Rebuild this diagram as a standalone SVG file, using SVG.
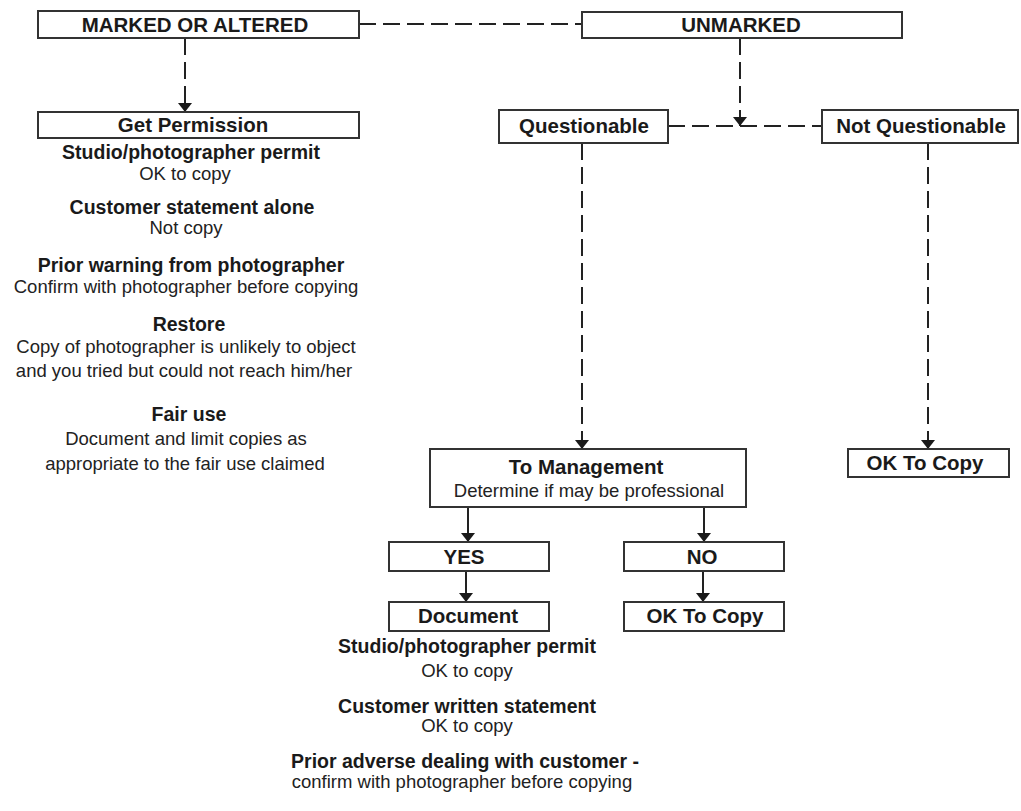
<svg xmlns="http://www.w3.org/2000/svg" width="1021" height="811" viewBox="0 0 1021 811">
<defs>
<marker id="ah" markerUnits="userSpaceOnUse" markerWidth="10" markerHeight="14" refX="9" refY="7" orient="auto" viewBox="0 0 10 14">
<path d="M0,0 L9,7 L0,14 z" fill="#1a1a1a"/>
</marker>
<style>
.box{fill:#fff;stroke:#333;stroke-width:2}
.lbl{font-family:"Liberation Sans",Arial,sans-serif;font-weight:bold;font-size:20.5px;fill:#1a1a1a;text-anchor:middle}
.hd{font-family:"Liberation Sans",Arial,sans-serif;font-weight:bold;font-size:19.5px;fill:#1a1a1a;text-anchor:middle}
.tx{font-family:"Liberation Sans",Arial,sans-serif;font-size:18.5px;fill:#222;text-anchor:middle}
.dash{fill:none;stroke:#222;stroke-width:2;stroke-dasharray:17 7}
.solid{fill:none;stroke:#222;stroke-width:2}
</style>
</defs>
<rect width="1021" height="811" fill="#fff"/>

<g id="connectors">
<line class="dash" x1="359" y1="24" x2="582" y2="24"/>
<line class="dash" x1="668" y1="126" x2="822" y2="126"/>
<line class="dash" x1="185" y1="38" x2="185" y2="112" marker-end="url(#ah)"/>
<line class="dash" x1="740" y1="38" x2="740" y2="126" marker-end="url(#ah)"/>
<line class="dash" x1="582" y1="143" x2="582" y2="449" marker-end="url(#ah)"/>
<line class="dash" x1="928" y1="143" x2="928" y2="449" marker-end="url(#ah)"/>
<line class="solid" x1="468" y1="507" x2="468" y2="542" marker-end="url(#ah)"/>
<line class="solid" x1="704" y1="507" x2="704" y2="542" marker-end="url(#ah)"/>
<line class="solid" x1="466" y1="571" x2="466" y2="602" marker-end="url(#ah)"/>
<line class="solid" x1="703" y1="571" x2="703" y2="602" marker-end="url(#ah)"/>
</g>

<g id="marked">
<rect class="box" x="38" y="11" width="321" height="27"/>
<text class="lbl" x="195" y="32">MARKED OR ALTERED</text>
</g>
<g id="unmarked">
<rect class="box" x="582" y="12" width="320" height="26"/>
<text class="lbl" x="741" y="32">UNMARKED</text>
</g>
<g id="get-permission">
<rect class="box" x="38" y="112" width="321" height="26"/>
<text class="lbl" x="193" y="132">Get Permission</text>
</g>
<g id="questionable">
<rect class="box" x="499" y="110" width="169" height="33"/>
<text class="lbl" x="584" y="133">Questionable</text>
</g>
<g id="not-questionable">
<rect class="box" x="822" y="110" width="196" height="33"/>
<text class="lbl" x="921" y="133">Not Questionable</text>
</g>

<g id="permission-notes">
<text class="hd" x="191" y="159">Studio/photographer permit</text>
<text class="tx" x="185" y="180">OK to copy</text>
<text class="hd" x="192" y="214">Customer statement alone</text>
<text class="tx" x="186" y="234">Not copy</text>
<text class="hd" x="191" y="272">Prior warning from photographer</text>
<text class="tx" x="186" y="293">Confirm with photographer before copying</text>
<text class="hd" x="189" y="331">Restore</text>
<text class="tx" x="186" y="353">Copy of photographer is unlikely to object</text>
<text class="tx" x="184" y="377">and you tried but could not reach him/her</text>
<text class="hd" x="189" y="421">Fair use</text>
<text class="tx" x="186" y="445">Document and limit copies as</text>
<text class="tx" x="185" y="470">appropriate to the fair use claimed</text>
</g>

<g id="to-management">
<rect class="box" x="430" y="449" width="316" height="58"/>
<text class="lbl" x="586" y="474">To Management</text>
<text class="tx" x="589" y="497">Determine if may be professional</text>
</g>
<g id="ok-right">
<rect class="box" x="848" y="449" width="161" height="28"/>
<text class="lbl" x="925" y="470">OK To Copy</text>
</g>
<g id="yes">
<rect class="box" x="389" y="542" width="160" height="29"/>
<text class="lbl" x="464" y="564">YES</text>
</g>
<g id="no">
<rect class="box" x="624" y="542" width="160" height="29"/>
<text class="lbl" x="702" y="564">NO</text>
</g>
<g id="document">
<rect class="box" x="389" y="602" width="160" height="29"/>
<text class="lbl" x="468" y="623">Document</text>
</g>
<g id="ok-bottom">
<rect class="box" x="624" y="602" width="160" height="29"/>
<text class="lbl" x="705" y="623">OK To Copy</text>
</g>

<g id="document-notes">
<text class="hd" x="467" y="653">Studio/photographer permit</text>
<text class="tx" x="467" y="677">OK to copy</text>
<text class="hd" x="467" y="713">Customer written statement</text>
<text class="tx" x="467" y="732">OK to copy</text>
<text class="hd" x="465" y="768">Prior adverse dealing with customer -</text>
<text class="tx" x="462" y="788">confirm with photographer before copying</text>
</g>
</svg>
